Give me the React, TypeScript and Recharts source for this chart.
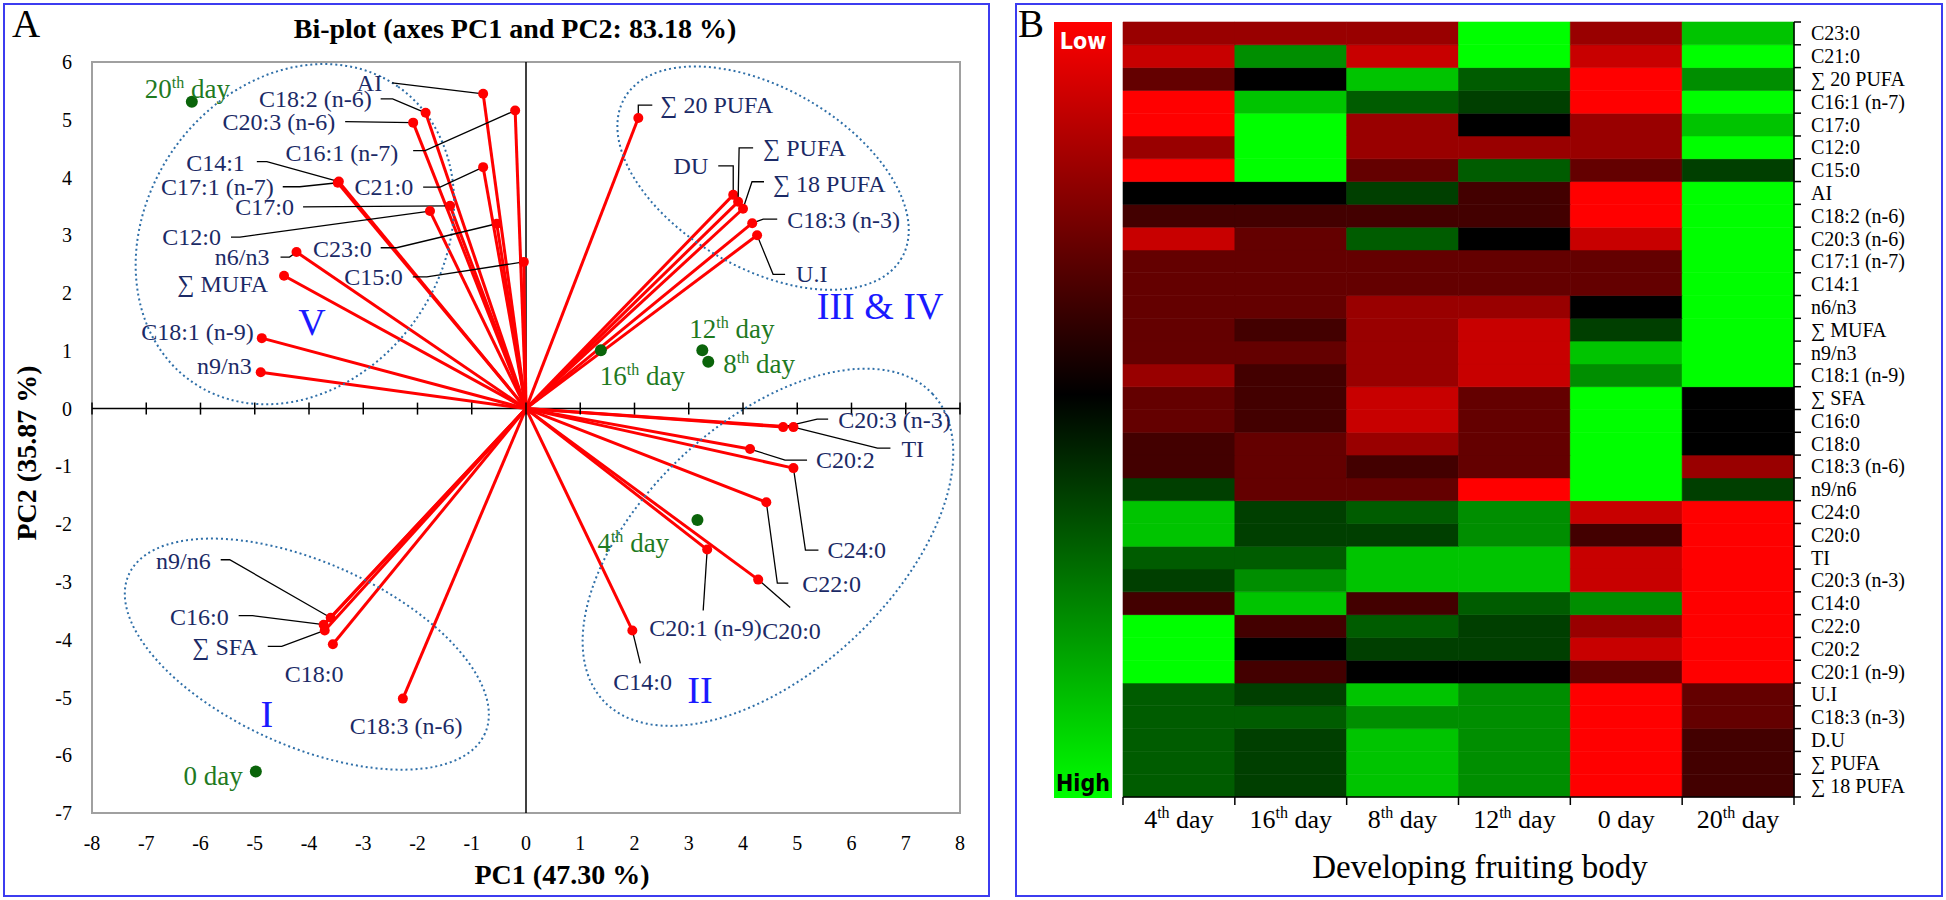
import React from "react"
import {
  ScatterChart,
  Scatter,
  XAxis,
  YAxis,
  ReferenceLine,
  ReferenceArea,
  BarChart,
  Bar,
  Cell,
} from "recharts"

const SERIF = '"Liberation Serif", "Times New Roman", serif'
const NARROW = '"Liberation Sans Narrow", "DejaVu Sans Condensed", "Liberation Sans", sans-serif'
const NAVY = "#1b2a66"
const GREEN_TXT = "#1f7a1f"
const GREEN_DOT = "#0a640a"
const ZONE_BLUE = "#1a1aff"

// ---- Panel A: PCA bi-plot ----
const VAR_NAMES = [
  "AI", "C18:2 (n-6)", "C20:3 (n-6)", "C16:1 (n-7)", "C14:1", "C17:1 (n-7)", "C21:0", "C17:0",
  "C12:0", "C23:0", "C15:0", "n6/n3", "∑ MUFA", "C18:1 (n-9)", "n9/n3", "∑ 20 PUFA", "DU",
  "∑ PUFA", "∑ 18 PUFA", "C18:3 (n-3)", "U.I", "C20:3 (n-3)", "TI", "C20:2", "C24:0", "C22:0",
  "C20:1 (n-9)", "C20:0", "C14:0", "n9/n6", "C16:0", "∑ SFA", "C18:0", "C18:3 (n-6)",
]
const VAR_PC1 = [
  -0.79, -1.85, -2.08, -0.2, -3.45, -3.47, -0.79, -1.4, -1.77, -0.54, -0.04, -4.23, -4.46, -4.87,
  -4.89, 2.07, 3.82, 3.91, 4.0, 4.17, 4.26, 4.74, 4.93, 4.13, 4.93, 4.43, 3.34, 4.28, 1.96, -3.6,
  -3.73, -3.71, -3.56, -2.27,
]
const VAR_PC2 = [
  5.45, 5.12, 4.95, 5.16, 3.93, 3.91, 4.18, 3.51, 3.42, 3.2, 2.54, 2.71, 2.3, 1.22, 0.63, 5.03,
  3.7, 3.58, 3.46, 3.21, 3.0, -0.32, -0.32, -0.7, -1.03, -1.62, -2.44, -2.96, -3.84, -3.62, -3.74,
  -3.84, -4.08, -5.02,
]

const DAY_NAMES = ["20th day", "16th day", "12th day", "8th day", "4th day", "0 day"]
const DAY_PC1 = [-6.16, 1.38, 3.25, 3.36, 3.16, -4.98]
const DAY_PC2 = [5.31, 1.01, 1.01, 0.81, -1.93, -6.28]

const ZONE_NAMES = ["V", "III & IV", "II", "I"]
const ZONE_PC1 = [-4.26, 4.37, 4.46, -4.04]
const ZONE_PC2 = [3.02, 3.99, -2.4, -4.25]

const X_TICKS = [-8, -7, -6, -5, -4, -3, -2, -1, 0, 1, 2, 3, 4, 5, 6, 7, 8]
const Y_TICKS = [-7, -6, -5, -4, -3, -2, -1, 0, 1, 2, 3, 4, 5, 6]

// label placement in px, relative to the point
type LabelPos = { dx: number; dy: number; anchor: "start" | "end"; leader?: number[][] }
const VAR_LABELS: Record<string, LabelPos> = {
  "AI": { dx: -101, dy: -3, anchor: "end", leader: [[-91, -11], [0, 0]] },
  "C18:2 (n-6)": { dx: -54, dy: -6, anchor: "end", leader: [[-45, -14], [-33, -14], [0, 0]] },
  "C20:3 (n-6)": { dx: -78, dy: 7, anchor: "end", leader: [[-68, -1], [0, 0]] },
  "C16:1 (n-7)": { dx: -117, dy: 50, anchor: "end", leader: [[-102, 40], [-90, 40], [0, 0]] },
  "C14:1": { dx: -94, dy: -11, anchor: "end", leader: [[-82, -20], [-72, -20], [0, 0]] },
  "C17:1 (n-7)": { dx: -64, dy: 12, anchor: "end", leader: [[-55, 4], [-38, 4], [0, 0]] },
  "C21:0": { dx: -70, dy: 28, anchor: "end", leader: [[-60, 20], [-43, 20], [0, 0]] },
  "C17:0": { dx: -156, dy: 9, anchor: "end", leader: [[-147, 1], [0, 0]] },
  "C12:0": { dx: -209, dy: 34, anchor: "end", leader: [[-199, 26], [-190, 26], [0, 0]] },
  "C23:0": { dx: -125, dy: 33, anchor: "end", leader: [[-116, 24], [-100, 24], [0, 0]] },
  "C15:0": { dx: -121, dy: 23, anchor: "end", leader: [[-111, 15], [-97, 15], [0, 0]] },
  "n6/n3": { dx: -27, dy: 13, anchor: "end", leader: [[-16, 5], [-7, 5], [0, 0]] },
  "∑ MUFA": { dx: -16, dy: 16, anchor: "end" },
  "C18:1 (n-9)": { dx: -8, dy: 2, anchor: "end" },
  "n9/n3": { dx: -9, dy: 2, anchor: "end" },
  "∑ 20 PUFA": { dx: 22, dy: -5, anchor: "start", leader: [[14, -13], [0, -13], [0, 0]] },
  "DU": { dx: -25, dy: -21, anchor: "end", leader: [[-15, -29], [0, -29], [0, 0]] },
  "∑ PUFA": { dx: 25, dy: -46, anchor: "start", leader: [[15, -54], [1, -54], [0, 0]] },
  "∑ 18 PUFA": { dx: 30, dy: -17, anchor: "start", leader: [[21, -27], [9, -27], [0, 0]] },
  "C18:3 (n-3)": { dx: 35, dy: 5, anchor: "start", leader: [[25, -4], [11, -4], [0, 0]] },
  "U.I": { dx: 39, dy: 47, anchor: "start", leader: [[28, 39], [16, 39], [0, 0]] },
  "C20:3 (n-3)": { dx: 55, dy: 1, anchor: "start", leader: [[45, -8], [34, -8], [0, 0]] },
  "TI": { dx: 108, dy: 30, anchor: "start", leader: [[97, 21], [84, 21], [0, 0]] },
  "C20:2": { dx: 66, dy: 19, anchor: "start", leader: [[57, 11], [35, 11], [0, 0]] },
  "C24:0": { dx: 34, dy: 90, anchor: "start", leader: [[25, 82], [12, 82], [0, 0]] },
  "C22:0": { dx: 36, dy: 90, anchor: "start", leader: [[22, 81], [11, 81], [0, 0]] },
  "C20:1 (n-9)": { dx: -58, dy: 86, anchor: "start", leader: [[-4, 61], [0, 0]] },
  "C20:0": { dx: 4, dy: 59, anchor: "start", leader: [[32, 28], [0, 0]] },
  "C14:0": { dx: -19, dy: 60, anchor: "start", leader: [[8, 33], [0, 0]] },
  "n9/n6": { dx: -120, dy: -49, anchor: "end", leader: [[-110, -58], [-101, -58], [0, 0]] },
  "C16:0": { dx: -95, dy: 0, anchor: "end", leader: [[-85, -9], [-71, -9], [0, 0]] },
  "∑ SFA": { dx: -67, dy: 25, anchor: "end", leader: [[-57, 16], [-43, 16], [0, 0]] },
  "C18:0": { dx: -48, dy: 38, anchor: "start" },
  "C18:3 (n-6)": { dx: -53, dy: 35, anchor: "start" },
}

const DAY_LABELS: Record<string, LabelPos> = {
  "20th day": { dx: -47, dy: -4, anchor: "start" },
  "16th day": { dx: -1, dy: 35, anchor: "start" },
  "12th day": { dx: -13, dy: -12, anchor: "start" },
  "8th day": { dx: 15, dy: 11, anchor: "start" },
  "4th day": { dx: -100, dy: 32, anchor: "start" },
  "0 day": { dx: -13, dy: 14, anchor: "end" },
}

const ZONE_STYLE: Record<string, { rx: number; ry: number; rot: number; tx: number; ty: number }> = {
  "V": { rx: 180, ry: 148, rot: -55, tx: 17, ty: 101 },
  "III & IV": { rx: 160, ry: 90, rot: 30, tx: 117, ty: 141 },
  "II": { rx: 225, ry: 125, rot: -43, tx: -68, ty: 156 },
  "I": { rx: 195, ry: 92, rot: 24, tx: -40, ty: 73 },
}

const vars = VAR_NAMES.map((name, i) => ({ name, x: VAR_PC1[i], y: VAR_PC2[i] }))
const days = DAY_NAMES.map((name, i) => ({ name, x: DAY_PC1[i], y: DAY_PC2[i] }))
const zones = ZONE_NAMES.map((name, i) => ({ name, x: ZONE_PC1[i], y: ZONE_PC2[i] }))
const axisMarks = X_TICKS.map((x) => ({ x, y: 0 }))

// "20th day" -> 20 + superscript th + day
function DayText({ x, y, label, size, fill, anchor }: any) {
  const m = /^(\d+)(th)?(.*)$/.exec(label)
  const num = m ? m[1] : label
  const sup = m && m[2] ? m[2] : ""
  const rest = m ? m[3] : ""
  const lift = Math.round(size * 0.38)
  return (
    <text x={x} y={y} textAnchor={anchor} fontFamily={SERIF} fontSize={size} fill={fill}>
      <tspan>{num}</tspan>
      {sup && (
        <tspan dy={-lift} fontSize={Math.round(size * 0.6)}>
          {sup}
        </tspan>
      )}
      <tspan dy={sup ? lift : 0}>{rest}</tspan>
    </text>
  )
}

const VarShape = (p: any) => {
  const lp = VAR_LABELS[p.payload.name]
  const { cx, cy } = p
  return (
    <g>
      {lp.leader && (
        <polyline
          points={lp.leader.map(([dx, dy]) => `${cx + dx},${cy + dy}`).join(" ")}
          fill="none"
          stroke="#000"
          strokeWidth={1.3}
        />
      )}
      <circle cx={cx} cy={cy} r={5} fill="#ff0000" />
      <text x={cx + lp.dx} y={cy + lp.dy} textAnchor={lp.anchor} fontFamily={SERIF} fontSize={24} fill={NAVY}>
        {p.payload.name}
      </text>
    </g>
  )
}

const DayShape = (p: any) => {
  const lp = DAY_LABELS[p.payload.name]
  return (
    <g>
      <circle cx={p.cx} cy={p.cy} r={6} fill={GREEN_DOT} />
      <DayText x={p.cx + lp.dx} y={p.cy + lp.dy} label={p.payload.name} size={27} fill={GREEN_TXT} anchor={lp.anchor} />
    </g>
  )
}

const ZoneShape = (p: any) => {
  const z = ZONE_STYLE[p.payload.name]
  return (
    <g>
      <ellipse
        cx={p.cx}
        cy={p.cy}
        rx={z.rx}
        ry={z.ry}
        transform={`rotate(${z.rot} ${p.cx} ${p.cy})`}
        fill="none"
        stroke="#2f6fa8"
        strokeWidth={2}
        strokeDasharray="2 3"
      />
      <text x={p.cx + z.tx} y={p.cy + z.ty} textAnchor="middle" fontFamily={SERIF} fontSize={38} fill={ZONE_BLUE}>
        {p.payload.name}
      </text>
    </g>
  )
}

const AxisMark = (p: any) => (
  <line x1={p.cx} x2={p.cx} y1={p.cy - 6} y2={p.cy + 6} stroke="#000" strokeWidth={1.5} />
)

// ---- Panel B: heat map ----
const HEAT_COLS = ["4th day", "16th day", "8th day", "12th day", "0 day", "20th day"]
const HEAT_ROWS = [
  "C23:0", "C21:0", "∑ 20 PUFA", "C16:1 (n-7)", "C17:0", "C12:0", "C15:0", "AI", "C18:2 (n-6)",
  "C20:3 (n-6)", "C17:1 (n-7)", "C14:1", "n6/n3", "∑ MUFA", "n9/n3", "C18:1 (n-9)", "∑ SFA",
  "C16:0", "C18:0", "C18:3 (n-6)", "n9/n6", "C24:0", "C20:0", "TI", "C20:3 (n-3)", "C14:0",
  "C22:0", "C20:2", "C20:1 (n-9)", "U.I", "C18:3 (n-3)", "D.U", "∑ PUFA", "∑ 18 PUFA",
]
// relative level per row, -5 (low, red) .. 5 (high, green), rows top to bottom
const DAY4 = [-3, -4, -2, -5, -5, -3, -5, 0, -1, -4, -2, -2, -2, -2, -2, -3, -2, -2, -1, -1, 1, 4, 4, 2, 1, -1, 5, 5, 5, 2, 2, 2, 2, 2]
const DAY16 = [-3, 3, 0, 4, 5, 5, 5, 0, -1, -2, -2, -2, -2, -1, -2, -1, -1, -1, -2, -2, -2, 1, 1, 2, 3, 4, -1, 0, -1, 1, 2, 1, 1, 1]
const DAY8 = [-3, -4, 4, 2, -3, -3, -2, 1, -1, 2, -2, -2, -3, -3, -3, -3, -4, -4, -3, -1, -2, 2, 1, 4, 4, -1, 2, 1, 0, 4, 3, 4, 4, 4]
const DAY12 = [5, 5, 2, 1, 0, -3, 2, -1, -1, 0, -2, -2, -3, -4, -4, -4, -2, -2, -2, -2, -5, 3, 3, 4, 4, 2, 1, 1, 0, 3, 3, 3, 3, 3]
const DAY0 = [-3, -4, -5, -5, -3, -3, -2, -5, -5, -4, -2, -2, 0, 1, 4, 3, 5, 5, 5, 5, 5, -4, -1, -4, -4, 3, -3, -4, -2, -5, -5, -5, -5, -5]
const DAY20 = [4, 5, 3, 5, 4, 5, 1, 5, 5, 5, 5, 5, 5, 5, 5, 5, 0, 0, 0, -3, 1, -5, -5, -5, -5, -5, -5, -5, -5, -2, -2, -1, -1, -1]
const HEAT_LEVELS = [DAY4, DAY16, DAY8, DAY12, DAY0, DAY20]

const LEVEL_COLORS: Record<string, string> = {
  "-5": "#ff0000", "-4": "#c80000", "-3": "#990000", "-2": "#640000", "-1": "#430000",
  "0": "#000000", "1": "#003f00", "2": "#005c00", "3": "#008e00", "4": "#00c400", "5": "#00ff00",
}

const heatData = HEAT_COLS.map((day) => {
  const row: Record<string, any> = { day }
  HEAT_ROWS.forEach((_, i) => (row["r" + i] = 1))
  return row
})
const heatTicks = HEAT_ROWS.map((_, i) => i).concat(HEAT_ROWS.length)

const HEAT_W = 671
const HEAT_H = 775
const COL_PX = HEAT_W / HEAT_COLS.length
const ROW_PX = HEAT_H / HEAT_ROWS.length

const HeatXTick = (p: any) => {
  const half = COL_PX / 2
  return (
    <g>
      <line x1={p.x - half} x2={p.x - half} y1={p.y} y2={p.y + 8} stroke="#000" strokeWidth={1.5} />
      {p.index === HEAT_COLS.length - 1 && (
        <line x1={p.x + half} x2={p.x + half} y1={p.y} y2={p.y + 8} stroke="#000" strokeWidth={1.5} />
      )}
      <DayText x={p.x} y={p.y + 31} label={p.payload.value} size={26} fill="#000" anchor="middle" />
    </g>
  )
}

const HeatYTick = (p: any) => {
  const v = p.payload.value
  if (v >= HEAT_ROWS.length) return null
  return (
    <text x={p.x} y={p.y - ROW_PX / 2} dy="0.35em" textAnchor="start" fontFamily={SERIF} fontSize={20} fill="#000">
      {HEAT_ROWS[HEAT_ROWS.length - 1 - v]}
    </text>
  )
}

const tickFont = { fontFamily: SERIF, fontSize: 20, fill: "#000" }

export default function App() {
  return (
    <div style={{ position: "absolute", left: 0, top: 0, width: 1946, height: 900, background: "#fff" }}>
      <div style={{ position: "absolute", left: 3, top: 3, width: 987, height: 894, boxSizing: "border-box", border: "2px solid #3c3cf0" }} />
      <div style={{ position: "absolute", left: 1015, top: 3, width: 928, height: 894, boxSizing: "border-box", border: "2px solid #3c3cf0" }} />

      <div style={{ position: "absolute", left: 0, top: 0 }}>
        <ScatterChart width={990} height={900} margin={{ top: 62, right: 30, bottom: 37, left: 12 }}>
          <XAxis
            type="number"
            dataKey="x"
            domain={[-8, 8]}
            ticks={X_TICKS}
            interval={0}
            axisLine={false}
            tickLine={false}
            tickSize={0}
            tickMargin={23}
            height={50}
            tick={tickFont}
          />
          <YAxis
            type="number"
            dataKey="y"
            domain={[-7, 6]}
            ticks={Y_TICKS}
            interval={0}
            axisLine={false}
            tickLine={false}
            tickSize={0}
            tickMargin={20}
            width={80}
            tick={tickFont}
          />
          <ReferenceArea x1={-8} x2={8} y1={-7} y2={6} fill="none" stroke="#a0a0a0" strokeWidth={2} />
          <Scatter data={zones} shape={ZoneShape} isAnimationActive={false} />
          <ReferenceLine x={0} stroke="#000" strokeWidth={1.5} />
          <ReferenceLine y={0} stroke="#000" strokeWidth={1.5} />
          <Scatter data={axisMarks} shape={AxisMark} isAnimationActive={false} />
          {vars.map((v) => (
            <ReferenceLine
              key={v.name}
              segment={[
                { x: 0, y: 0 },
                { x: v.x, y: v.y },
              ]}
              stroke="#ff0000"
              strokeWidth={3}
            />
          ))}
          <Scatter data={vars} shape={VarShape} isAnimationActive={false} />
          <Scatter data={days} shape={DayShape} isAnimationActive={false} />
        </ScatterChart>
      </div>

      <div style={{ position: "absolute", left: 1015, top: 0 }}>
        <BarChart
          width={928}
          height={900}
          data={heatData}
          margin={{ top: 22, right: 19, bottom: 23, left: 108 }}
          barCategoryGap={0}
          barGap={0}
        >
          <XAxis
            dataKey="day"
            type="category"
            interval={0}
            axisLine={{ stroke: "#000", strokeWidth: 1.5 }}
            tickLine={false}
            tickSize={0}
            tickMargin={0}
            height={80}
            tick={HeatXTick}
          />
          <YAxis
            yAxisId="lab"
            orientation="right"
            type="number"
            domain={[0, HEAT_ROWS.length]}
            ticks={heatTicks}
            interval={0}
            axisLine={{ stroke: "#000", strokeWidth: 1.5 }}
            tickLine={{ stroke: "#000", strokeWidth: 1.5 }}
            tickSize={7}
            tickMargin={10}
            width={130}
            tick={HeatYTick}
          />
          {HEAT_ROWS.map((_, k) => {
            const i = HEAT_ROWS.length - 1 - k
            return (
              <Bar key={i} dataKey={"r" + i} stackId="h" yAxisId="lab" isAnimationActive={false}>
                {HEAT_COLS.map((c, j) => {
                  const col = LEVEL_COLORS[String(HEAT_LEVELS[j][i])]
                  return <Cell key={c} fill={col} stroke={col} strokeWidth={0.6} />
                })}
              </Bar>
            )
          })}
        </BarChart>
      </div>

      <div
        style={{
          position: "absolute",
          left: 1054,
          top: 22,
          width: 58,
          height: 776,
          background: "linear-gradient(to bottom, #ff0000 0%, #000000 48%, #00ff00 100%)",
        }}
      />

      <svg width={1946} height={900} style={{ position: "absolute", left: 0, top: 0, pointerEvents: "none" }}>
        <text x={12} y={37} fontFamily={SERIF} fontSize={39} fill="#000">A</text>
        <text x={515} y={38} textAnchor="middle" fontFamily={SERIF} fontWeight="bold" fontSize={28} fill="#000">
          Bi-plot (axes PC1 and PC2: 83.18 %)
        </text>
        <text x={562} y={884} textAnchor="middle" fontFamily={SERIF} fontWeight="bold" fontSize={28} fill="#000">
          PC1 (47.30 %)
        </text>
        <text
          x={36}
          y={453}
          transform="rotate(-90 36 453)"
          textAnchor="middle"
          fontFamily={SERIF}
          fontWeight="bold"
          fontSize={28}
          fill="#000"
        >
          PC2 (35.87 %)
        </text>
        <text x={1018} y={37} fontFamily={SERIF} fontSize={39} fill="#000">B</text>
        <text x={1083} y={49} textAnchor="middle" fontFamily={NARROW} fontWeight="bold" fontSize={23} fill="#fff">Low</text>
        <text x={1083} y={791} textAnchor="middle" fontFamily={NARROW} fontWeight="bold" fontSize={23} fill="#000">High</text>
        <text x={1480} y={878} textAnchor="middle" fontFamily={SERIF} fontSize={33} fill="#000">
          Developing fruiting body
        </text>
      </svg>
    </div>
  )
}
